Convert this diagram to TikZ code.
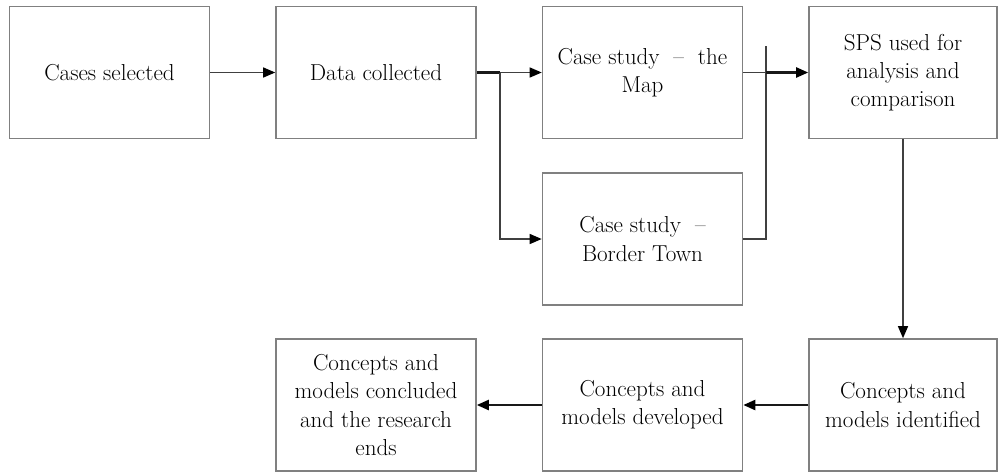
\documentclass[tikz,border=0pt]{standalone}
\usepackage{tikz}
\usetikzlibrary{arrows.meta}

\begin{document}
\begin{tikzpicture}[x=0.75pt, y=-0.75pt,
  stage/.style={draw=black!50, line width=1.2pt, fill=white, text=black, inner sep=0pt,
    minimum width=150pt, minimum height=99pt, align=center,
    font=\fontsize{17.3}{21.2}\selectfont},
  link/.style={draw=black!75, line width=1pt},
  arr/.style={link, -{Triangle[length=9pt,width=7.5pt,color=black]}},
  heavy/.style={line width=1.7pt, draw=black!90}]
\useasboundingbox (0,0) rectangle (998,472);
\node[stage] (cases) at (109.5,72.5) {Cases selected};
\node[stage] (data) at (376,72.5) {Data collected};
\node[stage] (map) at (642.5,72.5) {Case study \ -- \ the\\Map};
\node[stage] (border) at (642.5,239) {Case study \ --\\Border Town};
\node[stage, minimum width=141pt] (sps) at (903,72.5) {SPS used for\\analysis and\\comparison};
\node[stage, minimum width=141pt] (ident) at (903,405) {Concepts and\\models identified};
\node[stage] (devel) at (642.5,405) {Concepts and\\models developed};
\node[stage] (concl) at (376,405) {Concepts and\\models concluded\\and the research\\ends};
\coordinate (split) at (500,72.5);
\coordinate (join) at (766,72.5);
\coordinate (jointop) at (766,46);
\draw[arr] (cases) -- (data);
\draw[link, heavy] (data) -- (split);
\draw[arr] (split) -- (map);
\draw[arr] (split) |- (border);
\draw[link] (map) -- (join);
\draw[link] (border) -| (join) -- (jointop);
\draw[arr, heavy] (join) -- (sps);
\draw[arr] (sps) -- (ident);
\draw[arr, heavy] (ident) -- (devel);
\draw[arr, heavy] (devel) -- (concl);
\end{tikzpicture}
\end{document}
